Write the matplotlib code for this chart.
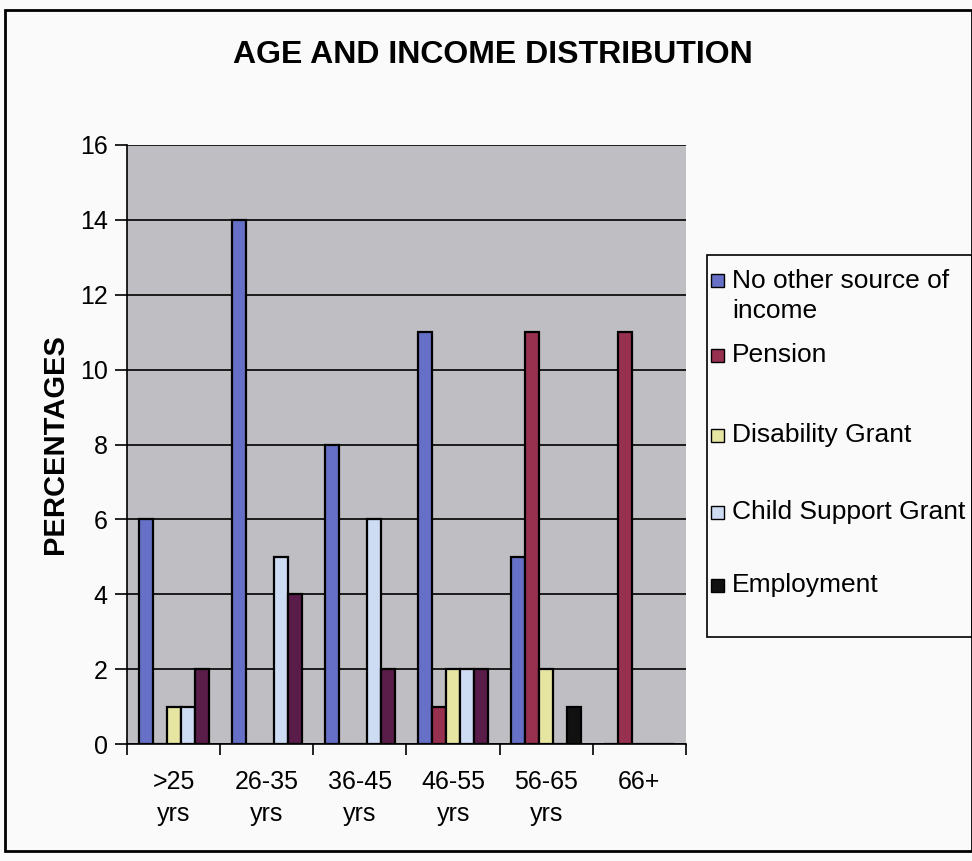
import numpy as np
import matplotlib.pyplot as plt
from matplotlib.patches import Rectangle

plt.rcParams['font.family'] = ['Liberation Sans', 'DejaVu Sans']

# ---------------------- data ----------------------
age_groups = ['>25\nyrs', '26-35\nyrs', '36-45\nyrs', '46-55\nyrs', '56-65\nyrs', '66+']
no_other_income = [6, 14, 8, 11, 5, 0]
pension = [0, 0, 0, 1, 11, 11]
disability_grant = [1, 0, 0, 2, 2, 0]
child_support = [1, 5, 6, 2, 0, 0]
employment = [2, 4, 2, 2, 1, 0]

series_labels = ['No other source of\nincome', 'Pension', 'Disability Grant',
                 'Child Support Grant', 'Employment']
series_colors = ['#6670c6', '#983050', '#e6e6a2', '#cddcf2', '#111111']
# employment bars printed in a dark plum, except the 56-65 one
employment_colors = ['#5a1c48', '#5a1c48', '#5a1c48', '#5a1c48', '#111111', '#5a1c48']

W, H = 972, 861
fig = plt.figure(figsize=(W / 100, H / 100), dpi=100)
fig.patch.set_facecolor('#fafafa')

def fx(px):
    return px / W

def fy(py):
    return 1 - py / H

ax = fig.add_axes([fx(127), fy(744), fx(686) - fx(127), fy(145) - fy(744)])
ax.set_facecolor('#bebec3')

x = np.arange(len(age_groups))
bw = 0.15
series = [no_other_income, pension, disability_grant, child_support, employment]
for i, vals in enumerate(series):
    cols = employment_colors if i == 4 else series_colors[i]
    ax.bar(x + (i - 2) * bw, vals, width=bw, color=cols, edgecolor='black',
           linewidth=1.6, zorder=3)

ax.set_xlim(-0.5, len(age_groups) - 0.5)
ax.set_ylim(0, 16)
ax.set_yticks(np.arange(0, 17, 2))
ax.yaxis.grid(True, color='black', linewidth=1.2, zorder=0)
ax.set_axisbelow(True)

ax.set_xticks(x)
ax.set_xticklabels(age_groups, fontsize=18, linespacing=1.4)
ax.set_xticks(np.arange(-0.5, len(age_groups), 1), minor=True)
ax.tick_params(axis='x', which='major', length=0, pad=19)
ax.tick_params(axis='x', which='minor', length=8, width=1.2, direction='out')
ax.tick_params(axis='y', length=9, width=1.2, direction='out', labelsize=18, pad=5)

for side in ['top', 'right']:
    ax.spines[side].set_visible(False)
ax.spines['left'].set_linewidth(1.2)
ax.spines['bottom'].set_linewidth(1.2)

ax.set_ylabel('PERCENTAGES', fontsize=21, fontweight='bold', labelpad=8)

fig.text(fx(493), fy(55), 'AGE AND INCOME DISTRIBUTION', ha='center', va='center',
         fontsize=23, fontweight='bold')

# legend box drawn on the figure
fig.patches.append(Rectangle((fx(707), fy(637)), fx(972) - fx(707), fy(255) - fy(637),
                             transform=fig.transFigure, facecolor='#fafafa',
                             edgecolor='black', linewidth=1.2))
entry_y = [280, 355, 435, 512, 585]
for lab, col, ey in zip(series_labels, series_colors, entry_y):
    fig.patches.append(Rectangle((fx(711), fy(ey + 7)), fx(13), fx(13) * W / H,
                                 transform=fig.transFigure, facecolor=col,
                                 edgecolor='black', linewidth=1.0))
    if '\n' in lab:
        fig.text(fx(732), fy(ey - 11), lab, ha='left', va='top', fontsize=19,
                 linespacing=1.3)
    else:
        fig.text(fx(732), fy(ey), lab, ha='left', va='center', fontsize=19)

# outer frame
fig.patches.append(Rectangle((fx(5), fy(851)), fx(972) - fx(5), fy(10) - fy(851),
                             transform=fig.transFigure, facecolor='none',
                             edgecolor='black', linewidth=2))

fig.savefig('out.png', dpi=100, facecolor=fig.get_facecolor())
